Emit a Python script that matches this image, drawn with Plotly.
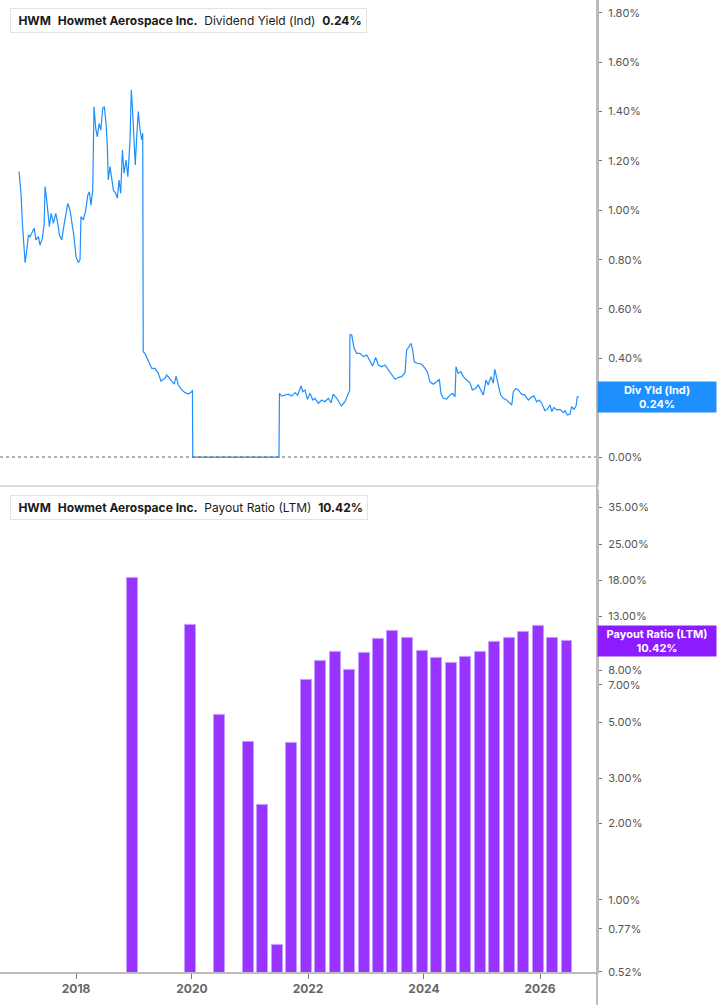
import math
import plotly.graph_objects as go

# dividend yield (ind), %
yield_dates = [
    "2017-01-07", "2017-01-20", "2017-01-28", "2017-02-08", "2017-02-14", "2017-02-25", "2017-03-07",
    "2017-03-17", "2017-04-01", "2017-04-12", "2017-04-24", "2017-05-09", "2017-05-19", "2017-06-03",
    "2017-06-14", "2017-06-20", "2017-06-30", "2017-07-17", "2017-07-28", "2017-08-11", "2017-08-26",
    "2017-09-08", "2017-09-18", "2017-10-03", "2017-10-19", "2017-11-10", "2017-11-24", "2017-12-05",
    "2017-12-19", "2018-01-01", "2018-01-15", "2018-01-26", "2018-02-01", "2018-02-16", "2018-03-03",
    "2018-03-16", "2018-03-26", "2018-04-05", "2018-04-16", "2018-04-24", "2018-05-05", "2018-05-15",
    "2018-05-26", "2018-06-06", "2018-06-18", "2018-06-28", "2018-07-09", "2018-07-17", "2018-07-23",
    "2018-08-03", "2018-08-14", "2018-08-24", "2018-09-08", "2018-09-18", "2018-09-29", "2018-10-09",
    "2018-10-20", "2018-10-30", "2018-11-12", "2018-11-23", "2018-12-07", "2018-12-15", "2018-12-24",
    "2019-01-03", "2019-01-09", "2019-01-18", "2019-01-28", "2019-02-08", "2019-02-19", "2019-02-25",
    "2019-02-28", "2019-03-11", "2019-04-01", "2019-04-23", "2019-05-13", "2019-06-03", "2019-06-20",
    "2019-07-15", "2019-07-26", "2019-08-12", "2019-08-27", "2019-09-12", "2019-09-23", "2019-10-07",
    "2019-10-29", "2019-11-18", "2019-12-09", "2019-12-31", "2020-01-04", "2020-01-06", "2021-07-02",
    "2021-07-05", "2021-07-19", "2021-08-09", "2021-08-30", "2021-09-20", "2021-10-11", "2021-10-28",
    "2021-11-18", "2021-11-29", "2021-12-13", "2021-12-28", "2022-01-14", "2022-01-31", "2022-02-14",
    "2022-03-07", "2022-03-28", "2022-04-18", "2022-05-09", "2022-05-26", "2022-06-09", "2022-07-01",
    "2022-07-30", "2022-08-22", "2022-09-12", "2022-09-20", "2022-09-22", "2022-10-03", "2022-10-18",
    "2022-11-04", "2022-11-24", "2022-12-15", "2023-01-06", "2023-01-22", "2023-02-12", "2023-03-03",
    "2023-03-20", "2023-04-10", "2023-05-01", "2023-05-22", "2023-06-12", "2023-07-03", "2023-07-24",
    "2023-08-14", "2023-09-04", "2023-09-14", "2023-09-29", "2023-10-11", "2023-10-22", "2023-11-01",
    "2023-11-20", "2023-12-18", "2024-01-08", "2024-01-22", "2024-02-08", "2024-02-29", "2024-03-21",
    "2024-04-07", "2024-04-17", "2024-05-02", "2024-05-23", "2024-06-13", "2024-06-30", "2024-07-15",
    "2024-07-21", "2024-08-04", "2024-08-21", "2024-09-05", "2024-09-26", "2024-10-17", "2024-11-01",
    "2024-11-22", "2024-12-08", "2024-12-23", "2025-01-09", "2025-01-26", "2025-02-09", "2025-02-26",
    "2025-03-13", "2025-03-22", "2025-04-03", "2025-04-13", "2025-04-28", "2025-05-15", "2025-06-05",
    "2025-06-26", "2025-07-07", "2025-07-17", "2025-08-03", "2025-08-17", "2025-09-07", "2025-09-28",
    "2025-10-19", "2025-11-10", "2025-11-24", "2025-12-11", "2025-12-27", "2026-01-12", "2026-02-01",
    "2026-02-16", "2026-03-05", "2026-03-16", "2026-03-30", "2026-04-16", "2026-05-07", "2026-05-28",
    "2026-06-07", "2026-06-22", "2026-07-09", "2026-07-19", "2026-08-03", "2026-08-16", "2026-08-24",
    "2026-09-03",
]
yield_values = [
    1.157, 1.062, 0.947, 0.819, 0.788, 0.839, 0.90,
    0.893, 0.913, 0.927, 0.88, 0.893, 0.859, 0.886,
    0.947, 1.096, 1.042, 0.934, 0.988, 0.947, 0.988,
    0.947, 0.90, 0.88, 0.947, 1.028, 1.001, 0.961,
    0.893, 0.812, 0.788, 0.799, 0.974, 0.961, 1.001,
    1.062, 1.075, 1.021, 1.082, 1.420, 1.332, 1.298,
    1.352, 1.325, 1.413, 1.420, 1.352, 1.258, 1.123,
    1.177, 1.123, 1.082, 1.069, 1.049, 1.123, 1.069,
    1.244, 1.150, 1.204, 1.136, 1.285, 1.488, 1.393,
    1.244, 1.184, 1.298, 1.400, 1.325, 1.285, 1.312,
    0.427, 0.42, 0.393, 0.359, 0.359, 0.339, 0.308,
    0.319, 0.332, 0.319, 0.305, 0.295, 0.328, 0.292,
    0.272, 0.261, 0.255, 0.265, 0.272, 0.0, 0.0,
    0.258, 0.247, 0.251, 0.255, 0.247, 0.261, 0.251,
    0.288, 0.265, 0.272, 0.234, 0.258, 0.231, 0.238,
    0.218, 0.231, 0.224, 0.238, 0.220, 0.255, 0.238,
    0.207, 0.224, 0.258, 0.27, 0.495, 0.495, 0.441,
    0.420, 0.420, 0.407, 0.413, 0.393, 0.369, 0.404,
    0.373, 0.366, 0.373, 0.353, 0.332, 0.315, 0.323,
    0.326, 0.342, 0.434, 0.447, 0.461, 0.434, 0.386,
    0.380, 0.376, 0.359, 0.346, 0.305, 0.295, 0.305,
    0.315, 0.258, 0.238, 0.235, 0.251, 0.258, 0.244,
    0.366, 0.339, 0.346, 0.326, 0.312, 0.301, 0.272,
    0.278, 0.292, 0.272, 0.251, 0.312, 0.292, 0.326,
    0.299, 0.356, 0.319, 0.292, 0.251, 0.238, 0.231,
    0.218, 0.211, 0.265, 0.278, 0.272, 0.255, 0.251,
    0.231, 0.244, 0.247, 0.224, 0.231, 0.218, 0.188,
    0.193, 0.211, 0.184, 0.201, 0.191, 0.193, 0.180,
    0.188, 0.170, 0.174, 0.204, 0.193, 0.207, 0.244,
    0.244,
]

# payout ratio (LTM), % per quarter
payout_dates = [
    "2018-12-20", "2019-12-20", "2020-06-20", "2020-12-20", "2021-03-20", "2021-06-20",
    "2021-09-20", "2021-12-20", "2022-03-20", "2022-06-20", "2022-09-20", "2022-12-20",
    "2023-03-20", "2023-06-20", "2023-09-20", "2023-12-20", "2024-03-20", "2024-06-20",
    "2024-09-20", "2024-12-20", "2025-03-20", "2025-06-20", "2025-09-20", "2025-12-20",
    "2026-03-20", "2026-06-20",
]
payout_values = [
    18.5, 12.1, 5.32, 4.18, 2.36, 0.665,
    4.14, 7.33, 8.7, 9.41, 8.02, 9.35,
    10.65, 11.45, 10.71, 9.50, 8.91, 8.54,
    9.0, 9.41, 10.33, 10.71, 11.3, 11.97,
    10.68, 10.42,
]

yield_ticks = [0.0, 0.2, 0.4, 0.6, 0.8, 1.0, 1.2, 1.4, 1.6, 1.8]
payout_ticks = [0.52, 0.77, 1, 2, 3, 5, 7, 8, 13, 18, 25, 35]

BLUE = "#1e8fff"
PURPLE = "#9933ff"
FONT = "Inter"

fig = go.Figure()

fig.add_trace(go.Scatter(x=yield_dates, y=yield_values, mode="lines",
                         line=dict(color=BLUE, width=1.2), xaxis="x", yaxis="y",
                         showlegend=False))

fig.add_trace(go.Bar(x=payout_dates, y=payout_values, width=69 * 86400000,
                     marker=dict(color=PURPLE, line=dict(color="#c59cff", width=1)),
                     xaxis="x2", yaxis="y2", showlegend=False))

x_range = ["2016-09-09", "2026-12-26"]

fig.update_layout(
    width=717, height=1005,
    margin=dict(l=0, r=120, t=0, b=33),
    paper_bgcolor="white", plot_bgcolor="white",
    font=dict(family=FONT, color="#555555", size=11),
    xaxis=dict(domain=[0, 1], range=x_range, type="date", anchor="y",
               showticklabels=False, showgrid=False, zeroline=False,
               showline=True, linecolor="#dddddd", linewidth=2, ticks=""),
    yaxis=dict(domain=[0.501, 1], range=[-0.1135, 1.8524], side="right", anchor="x",
               tickvals=yield_ticks, ticktext=["%.2f%%" % v for v in yield_ticks],
               showgrid=False, zeroline=False, showline=True, linecolor="#bbbbbb",
               linewidth=2, ticks="outside", ticklen=3, tickcolor="#777777",
               ticklabelstandoff=4, tickfont=dict(size=11, color="#555555")),
    xaxis2=dict(domain=[0, 1], range=x_range, type="date", anchor="y2",
                tickvals=["2018-01-01", "2020-01-01", "2022-01-01", "2024-01-01", "2026-01-01"],
                ticktext=["2018", "2020", "2022", "2024", "2026"],
                showgrid=False, zeroline=False, showline=True, linecolor="#bbbbbb",
                linewidth=2, ticks="outside", ticklen=5, tickcolor="#777777",
                tickfont=dict(size=12, color="#666666", weight="bold")),
    yaxis2=dict(domain=[0, 0.496], type="log", range=[-0.284, 1.612], side="right",
                anchor="x2", tickvals=payout_ticks,
                ticktext=["%.2f%%" % v for v in payout_ticks],
                showgrid=False, zeroline=False, showline=True, linecolor="#bbbbbb",
                linewidth=2, ticks="outside", ticklen=3, tickcolor="#777777",
                ticklabelstandoff=4, tickfont=dict(size=11, color="#555555")),
    bargap=0,
)

# dotted zero line and the full-height right axis line
fig.add_shape(type="line", xref="paper", yref="y", x0=0, x1=1, y0=0, y1=0,
              line=dict(color="#666666", width=1, dash="dot"))
fig.add_shape(type="line", xref="paper", yref="paper", x0=1, x1=1, y0=-0.034, y1=1,
              line=dict(color="#bbbbbb", width=2))

# header boxes
def px_x(p):
    return p / 597.0

def px_y(p):
    return (972.0 - p) / 972.0

headers = [
    (20, BLUE, "Dividend Yield (Ind)", "%.2f%%" % yield_values[-1]),
    (508, PURPLE, "Payout Ratio (LTM)", "%.2f%%" % payout_values[-1]),
]
for yc, col, name, val in headers:
    fig.add_annotation(
        xref="paper", yref="paper", x=px_x(10), y=px_y(yc), xanchor="left", yanchor="middle",
        text="&nbsp;<b>HWM</b>&nbsp;&nbsp;<b>Howmet Aerospace Inc.</b>&nbsp;&nbsp;"
             + name + "&nbsp;&nbsp;<b>" + val + "</b>",
        showarrow=False, bgcolor="white", bordercolor="#e3e3e3", borderwidth=1, borderpad=4,
        font=dict(family=FONT, size=12, color="#1a1a1a"))
    fig.add_shape(type="rect", xref="paper", yref="paper", x0=px_x(10), x1=px_x(14),
                  y0=px_y(yc + 12), y1=px_y(yc - 12), fillcolor=col, line=dict(width=0))

# last value labels on the right axis
fig.add_annotation(xref="paper", yref="y", x=1, y=yield_values[-1], xanchor="left",
                   yanchor="middle", text="<b>Div Yld (Ind)</b><br><b>%.2f%%</b>" % yield_values[-1],
                   showarrow=False, bgcolor=BLUE, width=116, borderpad=1,
                   font=dict(family=FONT, size=11, color="white"))
fig.add_annotation(xref="paper", yref="y2", x=1, y=math.log10(payout_values[-1]), xanchor="left",
                   yanchor="middle", text="<b>Payout Ratio (LTM)</b><br><b>%.2f%%</b>" % payout_values[-1],
                   showarrow=False, bgcolor="#8c1cff", width=116, borderpad=1,
                   font=dict(family=FONT, size=11, color="white"))

# the page's default body margin would push the figure 8px off the window edge
fig.write_html("out.html", config={"displayModeBar": False},
               post_script="document.body.style.margin='0';")
